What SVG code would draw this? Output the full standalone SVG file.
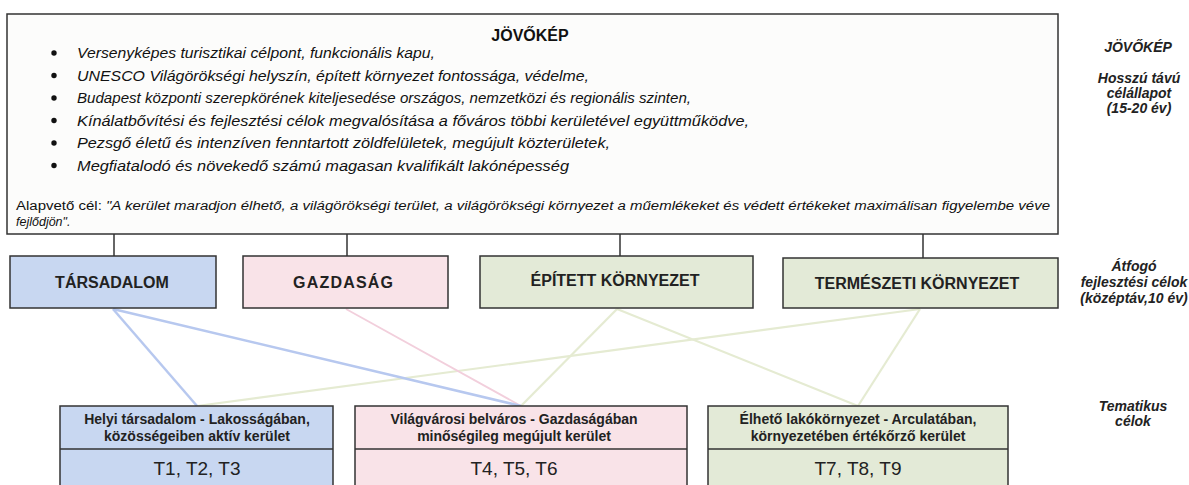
<svg xmlns="http://www.w3.org/2000/svg" width="1189" height="485" viewBox="0 0 1189 485">
<style>
.bx{stroke:#333;stroke-width:1.5}
.top{fill:#fcfcfb}
.blue{fill:#c8d7f1}
.pink{fill:#f9e3e8}
.green{fill:#e3ead7}
.vl{stroke:#333;stroke-width:1.5}
.bul{font-family:"Liberation Sans",Arial,sans-serif;font-style:italic;font-size:14px;fill:#111}
.alap{font-family:"Liberation Sans",Arial,sans-serif;font-size:12.5px;fill:#111}
.ttl{font-family:"Liberation Sans",Arial,sans-serif;font-weight:bold;font-size:16px;fill:#111;text-anchor:middle}
.mid{font-family:"Liberation Sans",Arial,sans-serif;font-weight:bold;font-size:16px;fill:#222;text-anchor:middle}
.bt{font-family:"Liberation Sans",Arial,sans-serif;font-weight:bold;font-size:14px;fill:#222;text-anchor:middle}
.tn{font-family:"Liberation Sans",Arial,sans-serif;font-size:19px;fill:#222;text-anchor:middle}
.rl{font-family:"Liberation Sans",Arial,sans-serif;font-weight:bold;font-style:italic;font-size:14px;fill:#222;text-anchor:middle}
.cb{stroke:#b7c8ef;stroke-width:2.5;fill:none}
.cp{stroke:#f2cfdc;stroke-width:1.8;fill:none}
.cg{stroke:#e5ebd2;stroke-width:2.2;fill:none}
</style>
<rect width="1189" height="485" fill="#ffffff"/>

<g id="jovokep">
<rect class="bx top" x="7" y="14" width="1051" height="220"/>
<text class="ttl" x="530" y="41">JÖVŐKÉP</text>
<g fill="#111">
<circle cx="54" cy="53" r="2.7"/>
<circle cx="54" cy="75.5" r="2.7"/>
<circle cx="54" cy="98" r="2.7"/>
<circle cx="54" cy="120.5" r="2.7"/>
<circle cx="54" cy="143" r="2.7"/>
<circle cx="54" cy="165.5" r="2.7"/>
</g>
<text class="bul" x="77" y="58" textLength="358" lengthAdjust="spacingAndGlyphs">Versenyképes turisztikai célpont, funkcionális kapu,</text>
<text class="bul" x="77" y="80.5" textLength="512" lengthAdjust="spacingAndGlyphs">UNESCO Világörökségi helyszín, épített környezet fontossága, védelme,</text>
<text class="bul" x="77" y="103" textLength="614" lengthAdjust="spacingAndGlyphs">Budapest központi szerepkörének kiteljesedése országos, nemzetközi és regionális szinten,</text>
<text class="bul" x="77" y="125.5" textLength="672" lengthAdjust="spacingAndGlyphs">Kínálatbővítési és fejlesztési célok megvalósítása a főváros többi kerületével együttműködve,</text>
<text class="bul" x="77" y="148" textLength="533" lengthAdjust="spacingAndGlyphs">Pezsgő életű és intenzíven fenntartott zöldfelületek, megújult közterületek,</text>
<text class="bul" x="77" y="170.5" textLength="492" lengthAdjust="spacingAndGlyphs">Megfiatalodó és növekedő számú magasan kvalifikált lakónépesség</text>
<text class="alap" x="16" y="210" textLength="1034" lengthAdjust="spacingAndGlyphs">Alapvető cél: <tspan font-style="italic">"A kerület maradjon élhető, a világörökségi terület, a világörökségi környezet a műemlékeket és védett értékeket maximálisan figyelembe véve</tspan></text>
<text class="alap" x="16" y="226" font-style="italic">fejlődjön".</text>
</g>

<g id="connectors">
<line class="vl" x1="114" y1="234" x2="114" y2="256"/>
<line class="vl" x1="347" y1="234" x2="347" y2="256"/>
<line class="vl" x1="620" y1="234" x2="620" y2="256"/>
<line class="vl" x1="923" y1="234" x2="923" y2="258"/>
<line class="cg" x1="920" y1="309" x2="197" y2="406"/>
<line class="cg" x1="617" y1="309" x2="521" y2="406"/>
<line class="cg" x1="617" y1="309" x2="858" y2="406"/>
<line class="cg" x1="920" y1="309" x2="858" y2="406"/>
<line class="cp" x1="346" y1="309" x2="521" y2="406"/>
<line class="cb" x1="113" y1="309" x2="197" y2="406"/>
<line class="cb" x1="113" y1="309" x2="521" y2="406"/>
</g>

<g id="tarsadalom">
<rect class="bx blue" x="10" y="256" width="206" height="52"/>
<text class="mid" x="112" y="288">TÁRSADALOM</text>
</g>
<g id="gazdasag">
<rect class="bx pink" x="243" y="256" width="205" height="52"/>
<text class="mid" x="343" y="288" textLength="100" lengthAdjust="spacing">GAZDASÁG</text>
</g>
<g id="epitett">
<rect class="bx green" x="480" y="256" width="273" height="52"/>
<text class="mid" x="615" y="286">ÉPÍTETT KÖRNYEZET</text>
</g>
<g id="termeszeti">
<rect class="bx green" x="783" y="258" width="275" height="50"/>
<text class="mid" x="917" y="289">TERMÉSZETI KÖRNYEZET</text>
</g>

<g id="helyi">
<rect class="bx blue" x="60" y="406" width="273" height="90"/>
<line class="bx" x1="60" y1="449" x2="333" y2="449"/>
<text class="bt" x="197" y="424">Helyi társadalom - Lakosságában,</text>
<text class="bt" x="197" y="441">közösségeiben aktív kerület</text>
<text class="tn" x="197" y="475">T1, T2, T3</text>
</g>
<g id="vilagvarosi">
<rect class="bx pink" x="355" y="406" width="332" height="90"/>
<line class="bx" x1="355" y1="449" x2="687" y2="449"/>
<text class="bt" x="514" y="424">Világvárosi belváros - Gazdaságában</text>
<text class="bt" x="514" y="441">minőségileg megújult kerület</text>
<text class="tn" x="514" y="475">T4, T5, T6</text>
</g>
<g id="elheto">
<rect class="bx green" x="708" y="406" width="300" height="90"/>
<line class="bx" x1="708" y1="449" x2="1008" y2="449"/>
<text class="bt" x="858" y="424">Élhető lakókörnyezet - Arculatában,</text>
<text class="bt" x="858" y="441">környezetében értékőrző kerület</text>
<text class="tn" x="858" y="475">T7, T8, T9</text>
</g>

<g id="labels">
<text class="rl" x="1138" y="52">JÖVŐKÉP</text>
<text class="rl" x="1139" y="83">Hosszú távú</text>
<text class="rl" x="1139" y="98">célállapot</text>
<text class="rl" x="1139" y="113">(15-20 év)</text>
<text class="rl" x="1134" y="271">Átfogó</text>
<text class="rl" x="1134" y="287">fejlesztési célok</text>
<text class="rl" x="1134" y="303">(középtáv,10 év)</text>
<text class="rl" x="1133" y="411">Tematikus</text>
<text class="rl" x="1133" y="426">célok</text>
</g>
</svg>
